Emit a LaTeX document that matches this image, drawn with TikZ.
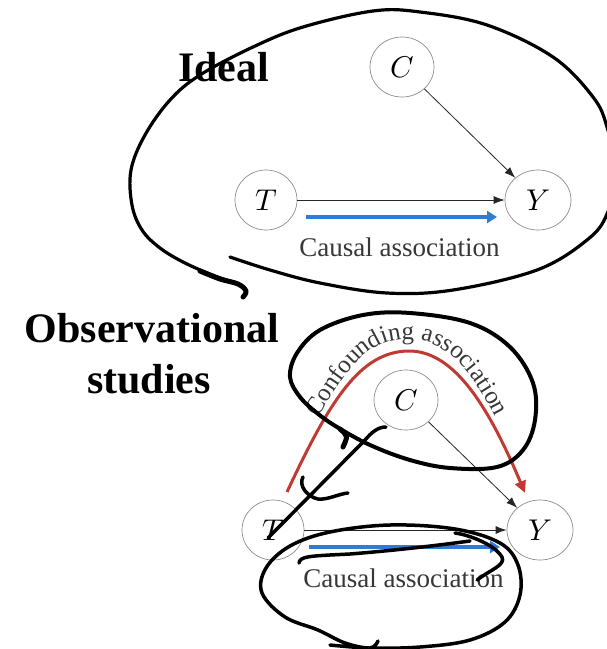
\documentclass[tikz,border=0pt]{standalone}
\usepackage{fontspec}
\usepackage{unicode-math}
\setmainfont{Liberation Serif}
\usetikzlibrary{arrows.meta,shapes.geometric,decorations.text}
\definecolor{causalblue}{RGB}{46,124,214}
\definecolor{confred}{RGB}{192,57,50}
\definecolor{labelgray}{RGB}{55,55,55}
\tikzset{
  var/.style={ellipse, draw=black!45, line width=0.7pt, minimum width=64pt,
    minimum height=60pt, inner sep=0pt, font=\fontsize{30}{30}\selectfont},
  link/.style={draw=black!85, line width=0.8pt, -{Latex[length=11pt,width=8pt]}},
  effect/.style={draw=causalblue, line width=4pt, -{Triangle[length=10pt,width=12pt]}},
  confound/.style={draw=confred, line width=3pt, -{Triangle[length=12pt,width=11pt]}},
  assoc/.style={font=\fontsize{27}{30}\selectfont, text=labelgray, anchor=base, inner sep=0pt},
  heading/.style={font=\fontsize{42}{52}\selectfont\bfseries, anchor=base, inner sep=0pt},
  ink/.style={draw=black, line width=3.2pt, line cap=round, line join=round},
}
\begin{document}
\begin{tikzpicture}[x=1pt,y=-1pt]
  \useasboundingbox (0,0) rectangle (607,649);

  % ---------- ideal setting ----------
  \node[heading, anchor=base west] (ideal) at (178,81) {Ideal};
  \node[var] (C1) at (402,67) {$C$};
  \node[var, minimum width=62pt] (T1) at (266,200) {$T$};
  \node[var, minimum width=66pt] (Y1) at (538,200) {$Y$};
  \draw[link] (T1) -- (Y1);
  \draw[link] (C1) -- (Y1);
  \coordinate (b1s) at (306,217);
  \coordinate (b1e) at (497,217);
  \draw[effect] (b1s) -- (b1e);
  \node[assoc] (ca1) at (399.5,256) {Causal association};

  % ---------- observational setting ----------
  \node[heading] (obs1) at (152,342) {Observational};
  \node[heading] (obs2) at (149,393) {studies};
  \node[var] (C2) at (406,400) {$C$};
  \node[var, minimum width=62pt] (T2) at (273,530) {$T$};
  \node[var, minimum width=66pt] (Y2) at (540,530) {$Y$};
  \draw[link] (T2) -- (Y2);
  \draw[link] (C2) -- (Y2);
  \coordinate (b2s) at (309,547);
  \coordinate (b2e) at (500,547);
  \draw[effect] (b2s) -- (b2e);
  \node[assoc] (ca2) at (403.5,587) {Causal association};

  % confounding path over C
  \coordinate (r0) at (287,492);
  \coordinate (rtop) at (408,351);
  \coordinate (r1) at (525,493);
  \draw[confound] (r0) .. controls (330,400) and (360,352) .. (rtop)
                       .. controls (455,350) and (490,410) .. (r1);
  \path[decorate, decoration={text along path, text align=center,
      text color=labelgray,
      text={|\fontsize{25}{28}\selectfont|Confounding association}}]
    (300,452) .. controls (342,372) and (365,339) .. (408,339)
              .. controls (452,339) and (480,380) .. (512,452);

  % ---------- pen annotations ----------
  % loop round the ideal graph
  \draw[ink] plot[smooth, tension=0.6] coordinates {
    (230,257) (270,270) (320,283) (387,293) (453,290) (537,270) (587,240)
    (607,214) (616,172) (607,127) (593,97) (553,57) (487,25) (420,12)
    (373,11) (303,27) (253,47) (200,75) (170,100) (145,135) (131,170)
    (132,205) (142,230) (160,248) (185,263) (215,276) (238,284) (246,291)
    (243,297)};
  \draw[ink, line width=5pt] plot[smooth, tension=0.6] coordinates {
    (200,271) (220,279) (238,284) (246,291) (243,297)};
  % loop round the confounding label
  \draw[ink, line width=4pt] plot[smooth cycle, tension=0.6] coordinates {
    (300,397) (290,377) (297,353) (320,330) (363,315) (410,313) (470,323)
    (510,347) (533,383) (535,420) (523,450) (497,467) (450,468) (410,460)
    (370,445) (337,427) (317,413)};
  \draw[ink, line width=5pt] (340,429) .. controls (348,436) .. (343,447);
  % hand-drawn arrow from C to T
  \coordinate (pc) at (386,427);
  \coordinate (pt) at (268,538);
  \draw[ink, line width=3.5pt] (pc) .. controls (378,427) and (372,432) .. (365,440) -- (pt);
  \draw[ink, line width=3.5pt] (303,477) .. controls (298,486) and (308,497) .. (318,499)
                 .. controls (328,500) and (338,494) .. (348,493);
  % hand-drawn arrow along the causal path
  \draw[ink, line width=3.5pt] (299,563) .. controls (300,556) and (310,556) .. (350,554)
                 .. controls (400,550) and (440,545) .. (470,541);
  \draw[ink, line width=3.5pt] (455,533) .. controls (470,535) and (495,545) .. (502,557)
                 .. controls (506,565) and (490,570) .. (477,580);
  % loop round the causal label
  \draw[ink, line width=3.5pt] plot[smooth, tension=0.6] coordinates {
    (330,645) (370,648) (420,647) (470,640) (505,622) (520,595) (518,565)
    (500,543) (455,529) (390,525) (330,532) (290,546) (266,568) (262,593)
    (285,617) (318,630) (345,643) (370,648) (378,641)};
\end{tikzpicture}
\end{document}
